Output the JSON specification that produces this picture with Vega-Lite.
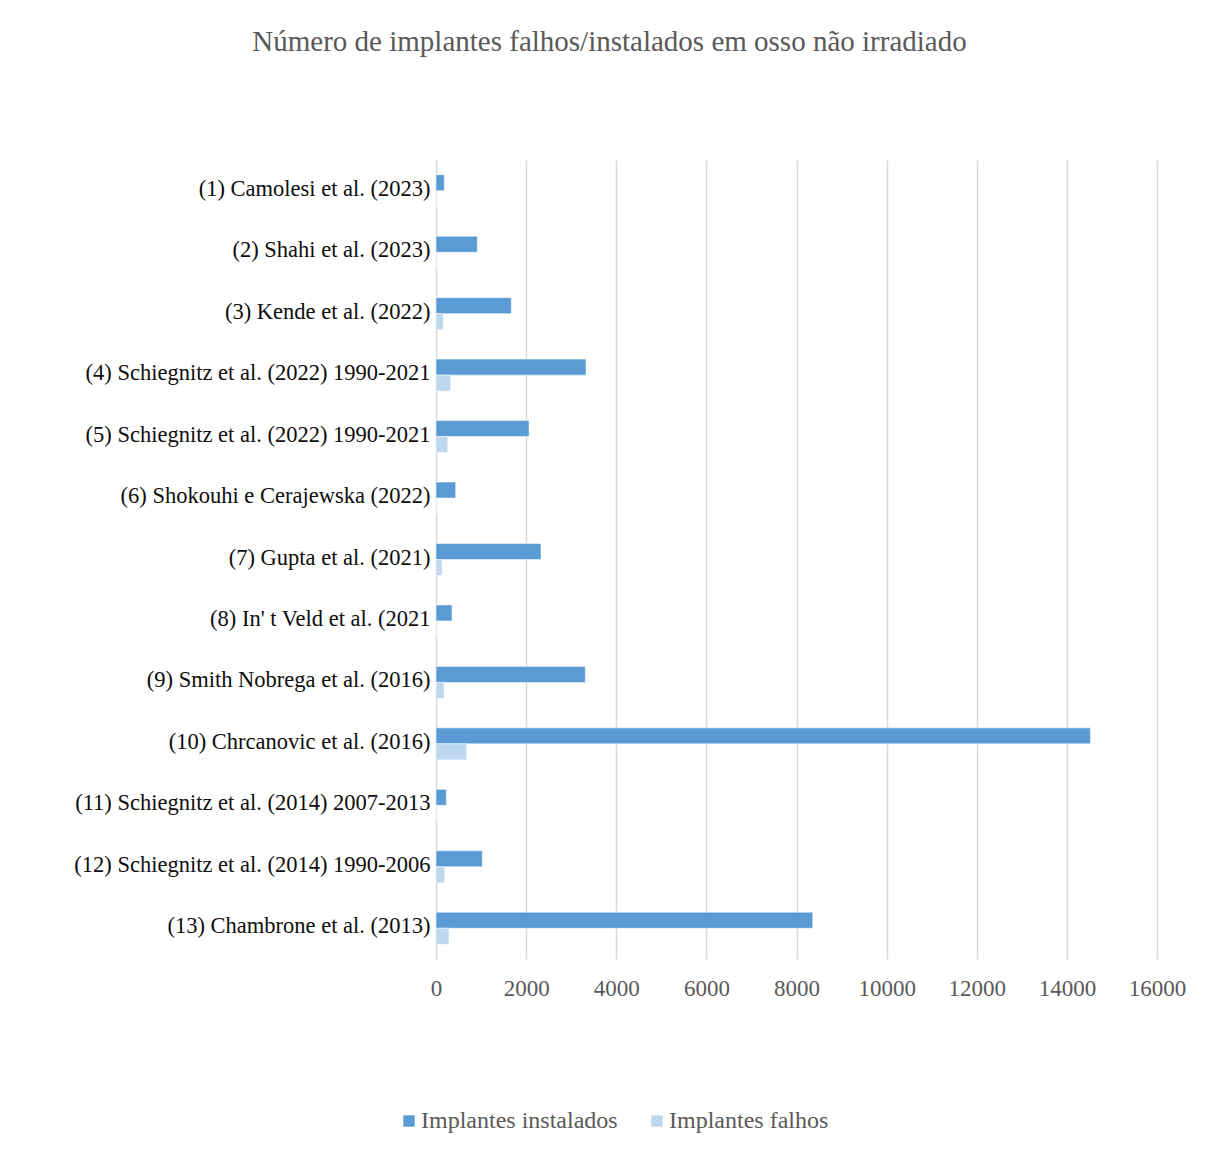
{
  "$schema": "https://vega.github.io/schema/vega-lite/v6.json",
  "autosize": {"type": "none"},
  "width": 721,
  "height": 799,
  "padding": {"left": 436, "top": 160, "right": 57, "bottom": 197},
  "background": "white",
  "title": {
    "text": "Número de implantes falhos/instalados em osso não irradiado",
    "font": "Liberation Serif",
    "fontSize": 29,
    "fontWeight": "normal",
    "color": "#595959",
    "anchor": "middle",
    "dx": -187,
    "offset": 103
  },
  "data": {
    "values": [
      {"study": "(1) Camolesi et al. (2023)", "serie": "Implantes instalados", "n": 185},
      {"study": "(1) Camolesi et al. (2023)", "serie": "Implantes falhos", "n": 4},
      {"study": "(2) Shahi et al. (2023)", "serie": "Implantes instalados", "n": 917},
      {"study": "(2) Shahi et al. (2023)", "serie": "Implantes falhos", "n": 10},
      {"study": "(3) Kende et al. (2022)", "serie": "Implantes instalados", "n": 1671},
      {"study": "(3) Kende et al. (2022)", "serie": "Implantes falhos", "n": 162},
      {"study": "(4) Schiegnitz et al. (2022) 1990-2021", "serie": "Implantes instalados", "n": 3329},
      {"study": "(4) Schiegnitz et al. (2022) 1990-2021", "serie": "Implantes falhos", "n": 326},
      {"study": "(5) Schiegnitz et al. (2022) 1990-2021", "serie": "Implantes instalados", "n": 2064},
      {"study": "(5) Schiegnitz et al. (2022) 1990-2021", "serie": "Implantes falhos", "n": 260},
      {"study": "(6) Shokouhi e Cerajewska (2022)", "serie": "Implantes instalados", "n": 437},
      {"study": "(6) Shokouhi e Cerajewska (2022)", "serie": "Implantes falhos", "n": 8},
      {"study": "(7) Gupta et al. (2021)", "serie": "Implantes instalados", "n": 2330},
      {"study": "(7) Gupta et al. (2021)", "serie": "Implantes falhos", "n": 133},
      {"study": "(8) In' t Veld et al. (2021", "serie": "Implantes instalados", "n": 355},
      {"study": "(8) In' t Veld et al. (2021", "serie": "Implantes falhos", "n": 6},
      {"study": "(9) Smith Nobrega et al. (2016)", "serie": "Implantes instalados", "n": 3313},
      {"study": "(9) Smith Nobrega et al. (2016)", "serie": "Implantes falhos", "n": 178},
      {"study": "(10) Chrcanovic et al. (2016)", "serie": "Implantes instalados", "n": 14523},
      {"study": "(10) Chrcanovic et al. (2016)", "serie": "Implantes falhos", "n": 681},
      {"study": "(11) Schiegnitz et al. (2014) 2007-2013", "serie": "Implantes instalados", "n": 229},
      {"study": "(11) Schiegnitz et al. (2014) 2007-2013", "serie": "Implantes falhos", "n": 5},
      {"study": "(12) Schiegnitz et al. (2014) 1990-2006", "serie": "Implantes instalados", "n": 1028},
      {"study": "(12) Schiegnitz et al. (2014) 1990-2006", "serie": "Implantes falhos", "n": 192},
      {"study": "(13) Chambrone et al. (2013)", "serie": "Implantes instalados", "n": 8360},
      {"study": "(13) Chambrone et al. (2013)", "serie": "Implantes falhos", "n": 288}
    ]
  },
  "mark": {"type": "bar", "strokeWidth": 0.5, "stroke": "#ffffff"},
  "encoding": {
    "y": {
      "field": "study",
      "type": "nominal",
      "sort": null,
      "title": null,
      "scale": {"paddingInner": 0.479, "paddingOuter": 0.24},
      "axis": {
        "domain": false,
        "ticks": false,
        "labelFont": "Liberation Serif",
        "labelFontSize": 22.5,
        "labelColor": "#0d0d0d",
        "labelPadding": 6,
        "labelOffset": -2,
        "labelLimit": 500
      }
    },
    "yOffset": {
      "field": "serie",
      "type": "nominal",
      "sort": ["Implantes instalados", "Implantes falhos"],
      "scale": {"paddingInner": 0, "paddingOuter": 0}
    },
    "x": {
      "field": "n",
      "type": "quantitative",
      "title": null,
      "scale": {"domain": [0, 16000], "nice": false},
      "axis": {
        "values": [0, 2000, 4000, 6000, 8000, 10000, 12000, 14000, 16000],
        "format": "d",
        "domain": false,
        "ticks": false,
        "grid": true,
        "gridColor": "#d9d9d9",
        "gridWidth": 1.5,
        "labelFlush": false,
        "labelOverlap": false,
        "labelFont": "Liberation Serif",
        "labelFontSize": 23,
        "labelColor": "#595959",
        "labelPadding": 18
      }
    },
    "color": {
      "field": "serie",
      "type": "nominal",
      "sort": ["Implantes instalados", "Implantes falhos"],
      "scale": {"domain": ["Implantes instalados", "Implantes falhos"], "range": ["#5b9bd5", "#bdd7ee"]},
      "legend": {
        "title": null,
        "orient": "none",
        "direction": "horizontal",
        "legendX": -39,
        "legendY": 949,
        "symbolType": "square",
        "symbolSize": 130,
        "symbolStrokeWidth": 0,
        "labelFont": "Liberation Serif",
        "labelFontSize": 24,
        "labelColor": "#595959",
        "labelOffset": 0,
        "labelLimit": 400,
        "columnPadding": 27
      }
    }
  },
  "config": {"view": {"stroke": null}}
}
